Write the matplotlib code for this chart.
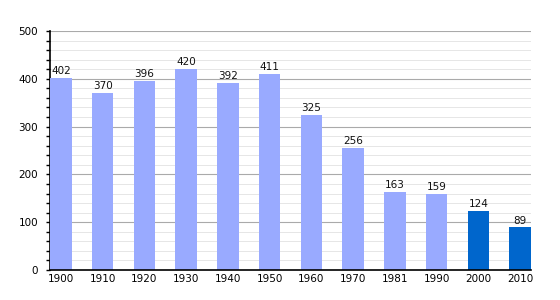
import matplotlib
matplotlib.use("Agg")
import matplotlib.pyplot as plt
from matplotlib.ticker import MultipleLocator

years = ["1900", "1910", "1920", "1930", "1940", "1950", "1960", "1970", "1981", "1990", "2000", "2010"]
population = [402, 370, 396, 420, 392, 411, 325, 256, 163, 159, 124, 89]
highlight = [False] * 10 + [True, True]

light = "#99aaff"
dark = "#0066cc"

fig = plt.figure(figsize=(5.6, 3.0), dpi=100)
ax = fig.add_axes([50 / 560, 30 / 300, 481 / 560, 239 / 300])

x = list(range(len(years)))
colors = [dark if h else light for h in highlight]
ax.bar(x, population, width=0.52, color=colors, zorder=3)

for xi, v in zip(x, population):
    ax.text(xi, v + 4, str(v), ha="center", va="bottom", fontsize=7.5, color="#111111", zorder=4)

ax.set_xlim(-0.26, 11.26)
ax.set_ylim(0, 500)
ax.set_xticks(x)
ax.set_xticklabels(years)
ax.yaxis.set_major_locator(MultipleLocator(100))
ax.yaxis.set_minor_locator(MultipleLocator(20))

ax.grid(axis="y", which="major", color="#aaaaaa", linewidth=0.8, zorder=0)
ax.grid(axis="y", which="minor", color="#e6e6e6", linewidth=0.7, zorder=0)

ax.spines["top"].set_visible(False)
ax.spines["right"].set_visible(False)
ax.spines["left"].set_linewidth(1.2)
ax.spines["bottom"].set_linewidth(1.2)
ax.spines["bottom"].set_zorder(5)
ax.tick_params(axis="y", which="major", length=3, width=1, labelsize=7.5, pad=5.5)
ax.tick_params(axis="y", which="minor", length=3, width=1)
ax.tick_params(axis="x", length=0, labelsize=7.5, pad=3)

fig.savefig("out.png", dpi=100)
